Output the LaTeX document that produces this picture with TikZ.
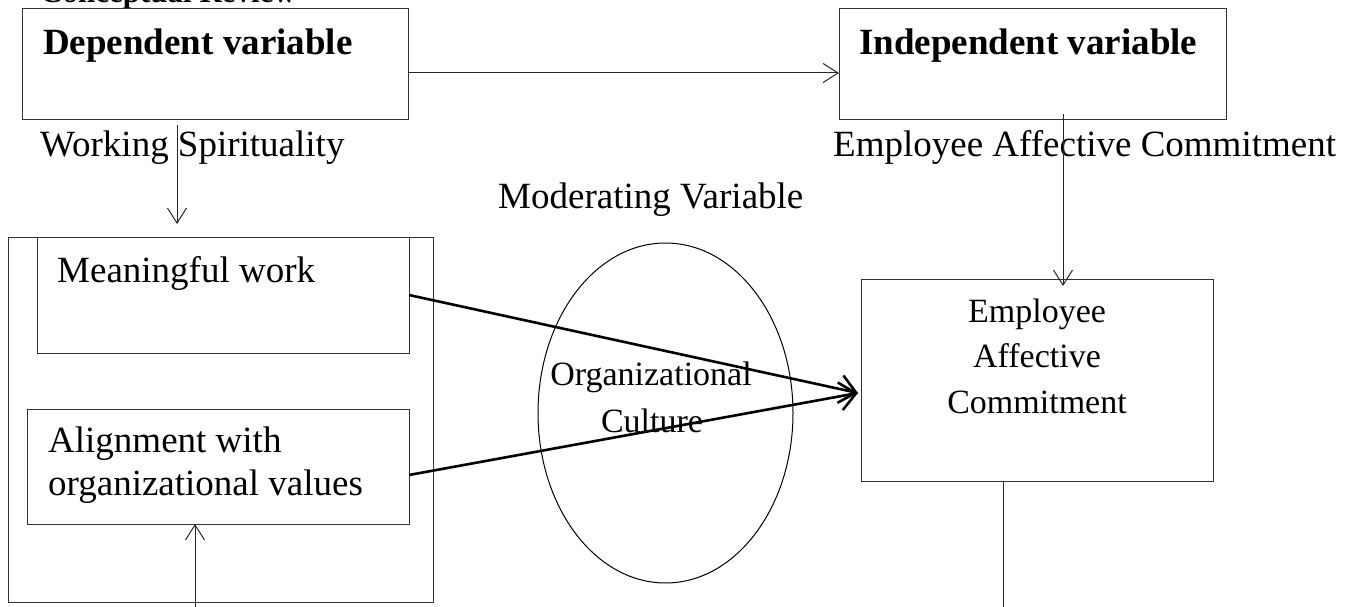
\documentclass[tikz,border=0pt]{standalone}
\usepackage{fontspec}
\setmainfont{Liberation Serif}
\usetikzlibrary{arrows.meta,shapes.geometric}

\begin{document}
\begin{tikzpicture}[x=1pt,y=-1pt,
    box/.style={draw=black!80, line width=1pt, anchor=north west, inner sep=0pt, outer sep=0pt},
    txt/.style={anchor=base west, inner sep=0pt, font=\fontsize{37}{43}\selectfont},
    ctxt/.style={anchor=base, inner sep=0pt, font=\fontsize{34}{40}\selectfont},
    thinarrow/.style={draw=black!85, line width=1pt, -{Straight Barb[length=15pt,width=19pt]}},
    thickarrow/.style={line width=2.6pt, -{Straight Barb[length=16pt,width=28pt]}}]
\useasboundingbox (0,0) rectangle (1358,607);

% top row
\node[txt, font=\fontsize{31}{36}\selectfont\bfseries] (title) at (40,3) {Conceptual Review};
\node[box, minimum width=386, minimum height=111] (dep) at (22,9) {};
\node[box, minimum width=387, minimum height=111] (indep) at (839,9) {};
\node[txt, font=\fontsize{37}{43}\selectfont\bfseries] (deptext) at (43,55) {Dependent variable};
\node[txt, font=\fontsize{37}{43}\selectfont\bfseries] (indeptext) at (859,55) {Independent variable};
\node[txt] (ws) at (40,157) {Working Spirituality};
\node[txt] (eac) at (833,157) {Employee Affective Commitment};
\node[txt] (mod) at (498,208) {Moderating Variable};

% left block
\node[box, minimum width=425, minimum height=365] (outer) at (8,237) {};
\node[box, minimum width=372, minimum height=116] (meaning) at (37,237) {};
\node[box, minimum width=382, minimum height=115] (align) at (27,409) {};
\node[txt] (meaningtext) at (57,282) {Meaningful work};
\node[txt] (aligntext1) at (48,452) {Alignment with};
\node[txt] (aligntext2) at (48,495) {organizational values};

% moderator
\node[draw, ellipse, line width=1pt, minimum width=255, minimum height=340, inner sep=0pt] (culture) at (665.5,413) {};
\node[ctxt] (culturetext1) at (651,385) {Organizational};
\node[ctxt] (culturetext2) at (652,432) {Culture};

% outcome
\node[box, minimum width=352, minimum height=202] (emp) at (861,279) {};
\node[ctxt] (emptext1) at (1037,322) {Employee};
\node[ctxt] (emptext2) at (1037,367) {Affective};
\node[ctxt] (emptext3) at (1037,413) {Commitment};

% connectors
\coordinate (wsout) at (177,125);
\coordinate (wsin) at (177,224);
\coordinate (eacout) at (1063,114);
\coordinate (eacin) at (1063,286);
\coordinate (alignin) at (195,607);
\coordinate (empout) at (1003,607);
\coordinate (meet) at (858,393);
\draw[thinarrow] ([yshift=-8.5pt]dep.east) -- ([yshift=-8.5pt]indep.west);
\draw[thinarrow] (wsout) -- (wsin);
\draw[thinarrow] (eacout) -- (eacin);
\draw[thinarrow] (alignin) -- (alignin |- align.south);
\draw[draw=black!85, line width=1pt] (empout |- emp.south) -- (empout);
\foreach \src in {(meaning.east), ([yshift=-8.5pt]align.east)}
    \draw[thickarrow] \src -- (meet);
\end{tikzpicture}
\end{document}
